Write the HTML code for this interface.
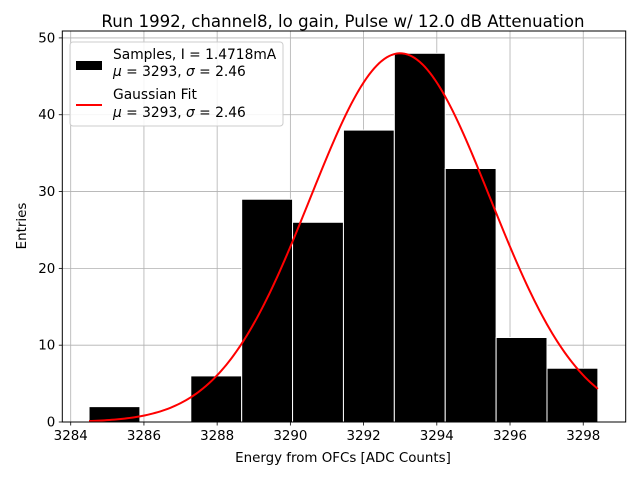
<!DOCTYPE html>
<html><head><meta charset="utf-8"><style>
body{margin:0;background:#fff}
svg{display:block;font-family:"DejaVu Sans","Liberation Sans",sans-serif}
</style></head><body>
<svg id="chart" width="640" height="480" viewBox="0 0 640 480">
<rect width="640" height="480" fill="#fff"/>
<g id="grid"></g><g id="bars"></g><g id="fit"></g><g id="axes"></g>
<text x="343" y="27" text-anchor="middle" font-size="16.6">Run 1992, channel8, lo gain, Pulse w/ 12.0 dB Attenuation</text>
<text x="343" y="462" text-anchor="middle" font-size="13.4">Energy from OFCs [ADC Counts]</text>
<text transform="translate(26,226) rotate(-90)" text-anchor="middle" font-size="13.4">Entries</text>
<g>
<rect x="70" y="42" width="213" height="84" rx="3" fill="#fff" fill-opacity="0.85" stroke="#ccc"/>
<rect x="76" y="61" width="26" height="9" fill="#000"/>
<text x="113" y="59" font-size="13.8">Samples, I = 1.4718mA</text>
<text x="113" y="76" font-size="13.8"><tspan font-style="italic">μ</tspan> = 3293, <tspan font-style="italic">σ</tspan> = 2.46</text>
<line x1="76" y1="105" x2="102" y2="105" stroke="red" stroke-width="2"/>
<text x="113" y="99" font-size="13.8">Gaussian Fit</text>
<text x="113" y="117" font-size="13.8"><tspan font-style="italic">μ</tspan> = 3293, <tspan font-style="italic">σ</tspan> = 2.46</text>
</g>
</svg>
<script>
const binEdges=[3284.5,3285.89,3287.28,3288.67,3290.06,3291.45,3292.84,3294.23,3295.62,3297.01,3298.4];
const counts=[2,0,6,29,26,38,48,33,11,7];
const fitMu=3293.0, fitSigma=2.46, fitAmp=48;
const xTicks=[3284,3286,3288,3290,3292,3294,3296,3298];
const yTicks=[0,10,20,30,40,50];
const L=62.3,R=625.7,T=31,B=422;
const X0=3283.77,X1=3299.16,Y0=0,Y1=50.9;
const xs=v=>L+(v-X0)/(X1-X0)*(R-L);
const ys=v=>B-(v-Y0)/(Y1-Y0)*(B-T);
const NS='http://www.w3.org/2000/svg';
function mk(tag,attrs,parent){const e=document.createElementNS(NS,tag);for(const k in attrs)e.setAttribute(k,attrs[k]);parent.appendChild(e);return e;}
const grid=document.getElementById('grid'),bars=document.getElementById('bars'),fit=document.getElementById('fit'),axes=document.getElementById('axes');
xTicks.forEach(t=>{const x=xs(t);
 const g=mk('line',{x1:x,x2:x,y1:T,y2:B,stroke:'#b0b0b0','stroke-width':0.8},grid);
 
 
 const tk=mk('line',{x1:x,x2:x,y1:B,y2:B+3.5,stroke:'#000','stroke-width':0.8},axes);
 
 
 const lb=mk('text',{x:x,y:B+18,'text-anchor':'middle','font-size':13.4},axes);lb.textContent=t;
 
 
});
yTicks.forEach(t=>{const y=ys(t);
 const g=mk('line',{x1:L,x2:R,y1:y,y2:y,stroke:'#b0b0b0','stroke-width':0.8},grid);
 
 
 const tk=mk('line',{x1:L-3.5,x2:L,y1:y,y2:y,stroke:'#000','stroke-width':0.8},axes);
 
 
 const lb=mk('text',{x:L-7,y:y+4.5,'text-anchor':'end','font-size':13.4},axes);lb.textContent=t;
 
 
});
counts.forEach((c,i)=>{if(c<=0)return;const x0=xs(binEdges[i]),x1=xs(binEdges[i+1]);
 const r=mk('rect',{x:x0,y:ys(c),width:x1-x0,height:ys(0)-ys(c),fill:'#000',stroke:'#fff','stroke-width':1},bars);
 
 
});
let d='';const a=binEdges[0],b=binEdges[binEdges.length-1];
for(let k=0;k<=200;k++){const v=a+(b-a)*k/200;const f=fitAmp*Math.exp(-((v-fitMu)**2)/(2*fitSigma*fitSigma));d+=(k?'L':'M')+xs(v).toFixed(2)+','+ys(f).toFixed(2);}
const p=mk('path',{d:d,fill:'none',stroke:'red','stroke-width':2},fit);


const fr=mk('rect',{x:L,y:T,width:R-L,height:B-T,fill:'none',stroke:'#000','stroke-width':1},axes);


</script>
</body></html>
